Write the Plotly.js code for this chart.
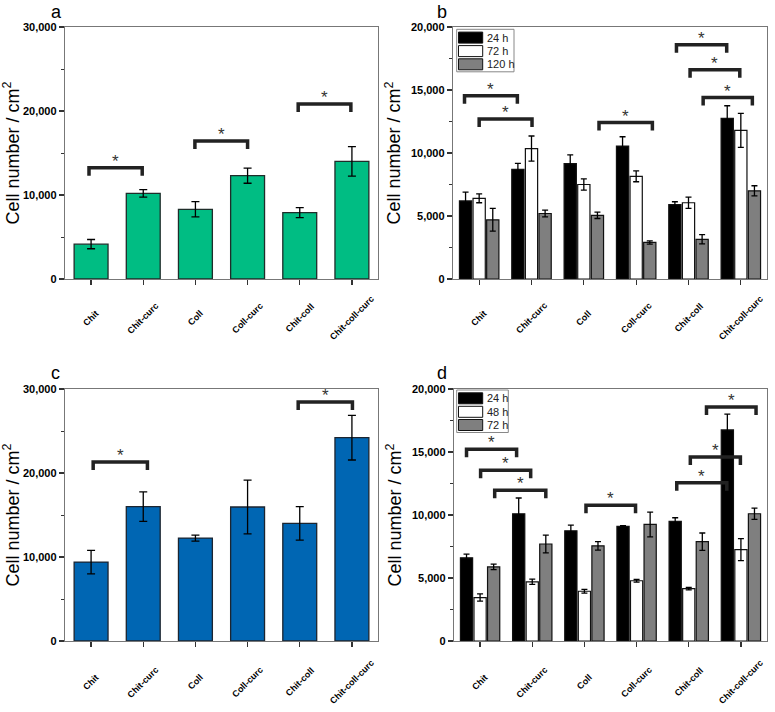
<!DOCTYPE html>
<html><head><meta charset="utf-8">
<script src="https://cdn.plot.ly/plotly-3.0.1.min.js"></script>
<style>html,body{margin:0;padding:0;background:#fff}#chart{width:775px;height:712px}</style>
</head><body><div id="chart"></div>
<script>
// ---------- data ----------
const categories = ['Chit', 'Chit-curc', 'Coll', 'Coll-curc', 'Chit-coll', 'Chit-coll-curc'];

// panel a
const aVals = [4150, 10200, 8300, 12300, 7900, 14000];
const aErr  = [550, 450, 900, 900, 600, 1750];
// panel c
const cVals = [9400, 16000, 12250, 15950, 14000, 24200];
const cErr  = [1400, 1750, 350, 3200, 2000, 2650];

// panel b
const bSeries = ['24 h', '72 h', '120 h'];
const b24  = [6200, 8700, 9150, 10550, 5900, 12750];
const b24Err = [700, 480, 700, 740, 230, 1000];
const b72  = [6400, 10350, 7500, 8150, 6050, 11800];
const b72Err = [350, 1000, 450, 430, 450, 1350];
const b120 = [4700, 5200, 5050, 2900, 3150, 7000];
const b120Err = [900, 270, 250, 130, 370, 400];

// panel d
const dSeries = ['24 h', '48 h', '72 h'];
const d24  = [6600, 10100, 8750, 9100, 9500, 16750];
const d24Err = [300, 1250, 450, 60, 280, 1250];
const d48  = [3450, 4700, 3950, 4780, 4150, 7250];
const d48Err = [290, 210, 150, 100, 100, 870];
const d72  = [5880, 7700, 7550, 9250, 7880, 10100];
const d72Err = [220, 700, 340, 980, 690, 450];

// significance brackets: [from (category index), to (category index), height]
const sigA = [[-0.04, 0.98, 13240], [1.99, 3.0, 16420], [3.97, 4.98, 20835]];
const sigB = [[-0.28, 0.73, 14536], [0.0, 1.01, 12706], [2.29, 3.31, 12414],
              [3.77, 4.73, 18594], [4.03, 4.98, 16605], [4.28, 5.22, 14403]];
const sigC = [[0.04, 1.08, 21315], [3.97, 5.01, 28446]];
const sigD = [[-0.26, 0.70, 15212], [0.01, 0.97, 13545], [0.28, 1.26, 11958],
              [2.03, 2.98, 10767], [3.77, 4.73, 12566], [4.03, 4.99, 14603], [4.34, 5.29, 18571]];

const yTitle = 'Cell number / cm<sup>2</sup>';

// ---------- layout helpers ----------
const W = 775, H = 712;
const FONT = 'Liberation Sans, Arial, Helvetica, sans-serif';
const px = v => v / W;
const py = v => 1 - v / H;

const panels = [
  {id: '',  label: 'a', left: 65,  right: 378, top: 27,  bottom: 279, ymax: 30000, dtick: 10000, minor: 5000, lab: [56, 12],  sig: sigA, labOff: 39},
  {id: '2', label: 'b', left: 453, right: 767, top: 27,  bottom: 279, ymax: 20000, dtick: 5000,  minor: 2500, lab: [442, 12], sig: sigB, labOff: 39},
  {id: '3', label: 'c', left: 65,  right: 378, top: 389, bottom: 641, ymax: 30000, dtick: 10000, minor: 5000, lab: [55, 373], sig: sigC, labOff: 41},
  {id: '4', label: 'd', left: 454, right: 767, top: 389, bottom: 641, ymax: 20000, dtick: 5000,  minor: 2500, lab: [442, 373], sig: sigD, labOff: 41}
];

const traces = [];
function errs(arr, w) {
  return {type: 'data', array: arr, visible: true, color: '#000', thickness: 1.3, width: w};
}
traces.push({type: 'bar', x: categories, y: aVals, xaxis: 'x', yaxis: 'y', width: 0.65,
  marker: {color: '#00bd83', line: {color: '#1f2d2a', width: 1.3}}, error_y: errs(aErr, 4), showlegend: false});
traces.push({type: 'bar', x: categories, y: cVals, xaxis: 'x3', yaxis: 'y3', width: 0.65,
  marker: {color: '#0066b3', line: {color: '#1c2530', width: 1.3}}, error_y: errs(cErr, 4), showlegend: false});

const fills = ['#000000', '#ffffff', '#7f7f7f'];
const bData = [[b24, b24Err], [b72, b72Err], [b120, b120Err]];
const dData = [[d24, d24Err], [d48, d48Err], [d72, d72Err]];
bData.forEach((s, i) => traces.push({type: 'bar', name: bSeries[i], x: categories, y: s[0], xaxis: 'x2', yaxis: 'y2',
  marker: {color: fills[i], line: {color: '#111', width: 1.2}}, error_y: errs(s[1], 3), showlegend: false}));
dData.forEach((s, i) => traces.push({type: 'bar', name: dSeries[i], x: categories, y: s[0], xaxis: 'x4', yaxis: 'y4',
  marker: {color: fills[i], line: {color: '#111', width: 1.2}}, error_y: errs(s[1], 3), showlegend: false}));

const layout = {
  width: W, height: H, margin: {l: 0, r: 0, t: 0, b: 0},
  paper_bgcolor: '#fff', plot_bgcolor: '#fff',
  barmode: 'group', bargap: 0.22, bargroupgap: 0.1,
  font: {family: FONT, color: '#000'},
  showlegend: false,
  shapes: [], annotations: []
};

panels.forEach(p => {
  const xa = 'xaxis' + p.id, ya = 'yaxis' + p.id;
  const xr = 'x' + p.id, yr = 'y' + p.id;
  layout[xa] = {
    type: 'category', domain: [px(p.left), px(p.right)], range: [-0.5, 5.5],
    anchor: yr, showline: true, mirror: true, linecolor: '#777', linewidth: 1.2,
    ticks: 'outside', ticklen: 5, tickcolor: '#333', tickwidth: 1.2,
    showticklabels: false, showgrid: false, zeroline: false, fixedrange: true, automargin: false
  };
  layout[ya] = {
    domain: [py(p.bottom), py(p.top)], range: [0, p.ymax], dtick: p.dtick, tick0: 0,
    anchor: xr, showline: true, mirror: true, linecolor: '#777', linewidth: 1.2,
    ticks: 'outside', ticklen: 5, tickcolor: '#333', tickwidth: 1.2,
    minor: {dtick: p.minor, ticks: 'outside', ticklen: 3, tickcolor: '#333', tickwidth: 1, showgrid: false},
    tickformat: ',d', tickfont: {family: FONT, size: 11, weight: 'bold', color: '#000'},
    showgrid: false, zeroline: false, fixedrange: true, automargin: false,
    title: {text: yTitle, font: {family: FONT, size: 18, color: '#000'}, standoff: 5}
  };
  // category labels (centered, rotated)
  categories.forEach(c => layout.annotations.push({
    text: c, x: c, xref: xr, y: -p.labOff / (p.bottom - p.top), yref: yr + ' domain',
    xanchor: 'center', yanchor: 'middle', textangle: -45, showarrow: false,
    font: {family: FONT, size: 9, weight: 'bold', color: '#000'}
  }));
  // panel letter
  layout.annotations.push({text: p.label, xref: 'paper', yref: 'paper', x: px(p.lab[0]), y: py(p.lab[1]),
    xanchor: 'center', yanchor: 'middle', showarrow: false, font: {family: FONT, size: 18, color: '#000'}});
  // significance brackets
  const leg = 8 / (p.bottom - p.top) * p.ymax;
  p.sig.forEach(s => {
    const [x0, x1, yt] = s;
    layout.shapes.push({type: 'path', xref: xr, yref: yr,
      path: `M ${x0},${yt - leg} L ${x0},${yt} L ${x1},${yt} L ${x1},${yt - leg}`,
      line: {color: '#222', width: 3.5}, layer: 'above'});
    layout.annotations.push({text: '*', x: (x0 + x1) / 2, xref: xr, y: yt, yref: yr,
      xanchor: 'center', yanchor: 'bottom', yshift: -5, showarrow: false,
      font: {family: FONT, size: 17, color: '#333'}});
  });
});

// custom legends (panels b and d)
function addLegend(names, boxL, boxT, boxW) {
  layout.shapes.push({type: 'rect', xref: 'paper', yref: 'paper',
    x0: px(boxL), x1: px(boxL + boxW), y0: py(boxT + 42.5), y1: py(boxT),
    line: {color: '#888', width: 1}, fillcolor: 'rgba(255,255,255,1)', layer: 'above'});
  const offs = [2.8, 16.3, 29.5];
  names.forEach((n, i) => {
    const t = boxT + offs[i];
    layout.shapes.push({type: 'rect', xref: 'paper', yref: 'paper',
      x0: px(boxL + 1.8), x1: px(boxL + 26), y0: py(t + 11), y1: py(t),
      line: {color: '#111', width: 1}, fillcolor: fills[i], layer: 'above'});
    layout.annotations.push({text: n, xref: 'paper', yref: 'paper', x: px(boxL + 28), y: py(t + 5.5),
      xanchor: 'left', yanchor: 'middle', showarrow: false,
      font: {family: FONT, size: 11, color: '#222'}});
  });
}
addLegend(bSeries, 456.7, 29.3, 57.3);
addLegend(dSeries, 456.7, 390, 51.6);

Plotly.newPlot('chart', traces, layout, {staticPlot: true, displayModeBar: false});
</script>
</body></html>
